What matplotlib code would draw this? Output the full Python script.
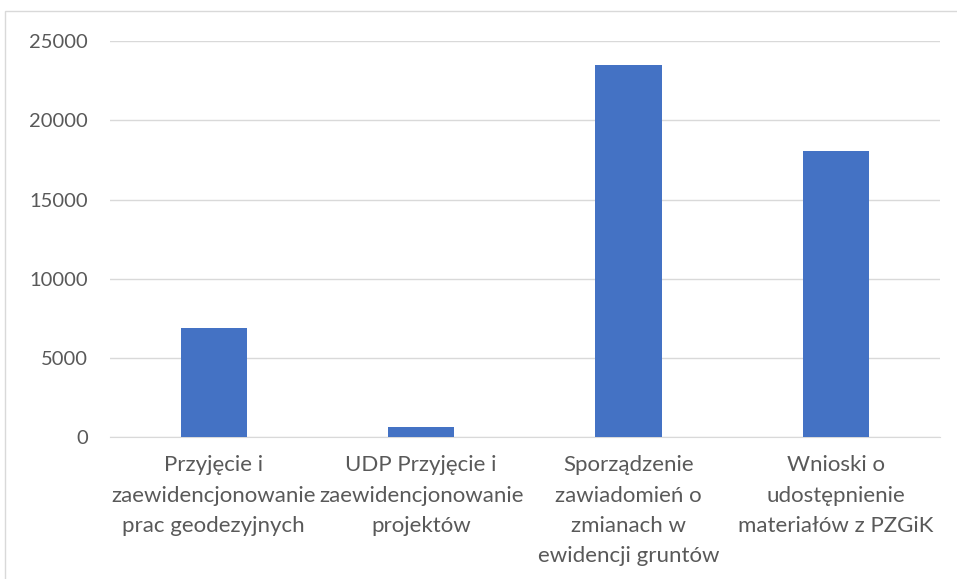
import matplotlib.pyplot as plt
from matplotlib.patches import Rectangle

categories = [
    "Przyjęcie i\nzaewidencjonowanie\nprac geodezyjnych",
    "UDP Przyjęcie i\nzaewidencjonowanie\nprojektów",
    "Sporządzenie\nzawiadomień o\nzmianach w\newidencji gruntów",
    "Wnioski o\nudostępnienie\nmateriałów z PZGiK",
]
values = [6880, 665, 23480, 18050]
yticks = [0, 5000, 10000, 15000, 20000, 25000]

plt.rcParams['font.family'] = ['Lato', 'DejaVu Sans']

fig = plt.figure(figsize=(9.57, 5.79), dpi=100)
ax = fig.add_axes([0.115, 0.245, 0.867, 0.684])

# border of the chart area (only top/left visible in the crop)
fig.patches.append(Rectangle((5 / 957, -0.1), 1.2, 1 - 11 / 579 + 0.1,
                             transform=fig.transFigure, fill=False,
                             edgecolor='#d9d9d9', linewidth=1))

x = range(len(categories))
ax.bar(x, values, width=0.32, color='#4472C4', zorder=3)

ax.set_xlim(-0.5, len(categories) - 0.5)
ax.set_ylim(0, 25000)
ax.set_yticks(yticks)
ax.set_yticklabels([str(v) for v in yticks], fontsize=14.5)
ax.set_xticks(list(x))
ax.set_xticklabels(categories, linespacing=1.65, va='top', fontsize=16)

ax.grid(axis='y', color='#d9d9d9', linewidth=1, zorder=0)
for s in ['top', 'right', 'left']:
    ax.spines[s].set_visible(False)
ax.spines['bottom'].set_color('#d9d9d9')
ax.tick_params(axis='both', length=0, colors='#595959')
ax.tick_params(axis='y', pad=16)
ax.tick_params(axis='x', pad=13)

fig.savefig('out.png', dpi=100)
